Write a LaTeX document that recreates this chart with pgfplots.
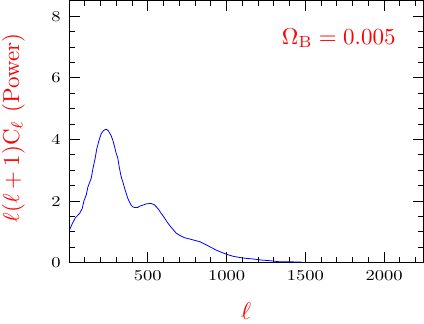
\RequirePackage{fix-cm}
\documentclass[border=0pt]{standalone}
\usepackage{graphicx}
\usepackage{pgfplots}
\pgfplotsset{compat=1.18}
\newcommand{\tl}[1]{\scalebox{1.85}[1.5]{#1}}
\begin{document}
\begin{tikzpicture}
\useasboundingbox (-69.3pt,-60.7pt) rectangle (355pt,262.8pt);
\begin{axis}[
  scale only axis, width=354pt, height=262pt,
  xmin=2, xmax=2247, ymin=0, ymax=8.5,
  xtick={500,1000,1500,2000},
  xticklabels={\tl{500},\tl{1000},\tl{1500},\tl{2000}},
  minor xtick={100,200,300,400,600,700,800,900,1100,1200,1300,1400,1600,1700,1800,1900,2100,2200},
  ytick={0,2,4,6,8},
  yticklabels={\tl{0},\tl{2},\tl{4},\tl{6},\tl{8}},
  minor ytick={0.5,1,1.5,2.5,3,3.5,4.5,5,5.5,6.5,7,7.5},
  tick align=inside, major tick length=10.5pt, minor tick length=5.5pt,
  tick style={black, line width=0.8pt},
  axis line style={line width=0.8pt},
  xticklabel style={yshift=-4.5pt},
  yticklabel style={xshift=-5pt},
  xlabel={\scalebox{2.4}{$\ell$}},
  xlabel style={text=red, at={(axis description cs:0.5,-0.185)}, anchor=center},
  ylabel={\scalebox{2.3}{$\ell(\ell+1)$C$_\ell$ (Power)}},
  ylabel style={text=red, at={(axis description cs:-0.158,0.514)}, anchor=center},
]
\addplot[blue, line width=0.8pt] coordinates {
(2,1.04) (20,1.25) (40,1.45) (68,1.60) (84,1.75) (95,2.0) (110,2.2) (120,2.45)
(142,2.75) (152,3.05) (165,3.35) (177,3.70) (190,3.95) (205,4.19) (218,4.28)
(230,4.32) (240,4.32) (250,4.28) (268,4.12) (280,3.95) (300,3.55) (310,3.40)
(320,3.08) (332,2.78) (342,2.62) (357,2.35) (374,2.08) (384,1.97) (395,1.86)
(405,1.81) (416,1.79) (437,1.79) (447,1.83) (470,1.87) (494,1.91) (521,1.92)
(542,1.88) (553,1.82) (570,1.72) (585,1.60) (600,1.50) (627,1.29) (645,1.17)
(680,0.96) (701,0.89) (732,0.81) (764,0.77) (800,0.72) (830,0.68) (870,0.58)
(900,0.50) (933,0.41) (965,0.34) (996,0.28) (1038,0.21) (1080,0.17) (1122,0.14)
(1165,0.12) (1228,0.08) (1280,0.06) (1333,0.03) (1400,0.025) (1475,0.02)
};
\node[anchor=base east, text=red, inner sep=0pt] at (axis cs:2074,7.09) {\scalebox{2.3}{$\Omega_{\mathrm{B}}=0.005$}};
\end{axis}
\end{tikzpicture}
\end{document}
